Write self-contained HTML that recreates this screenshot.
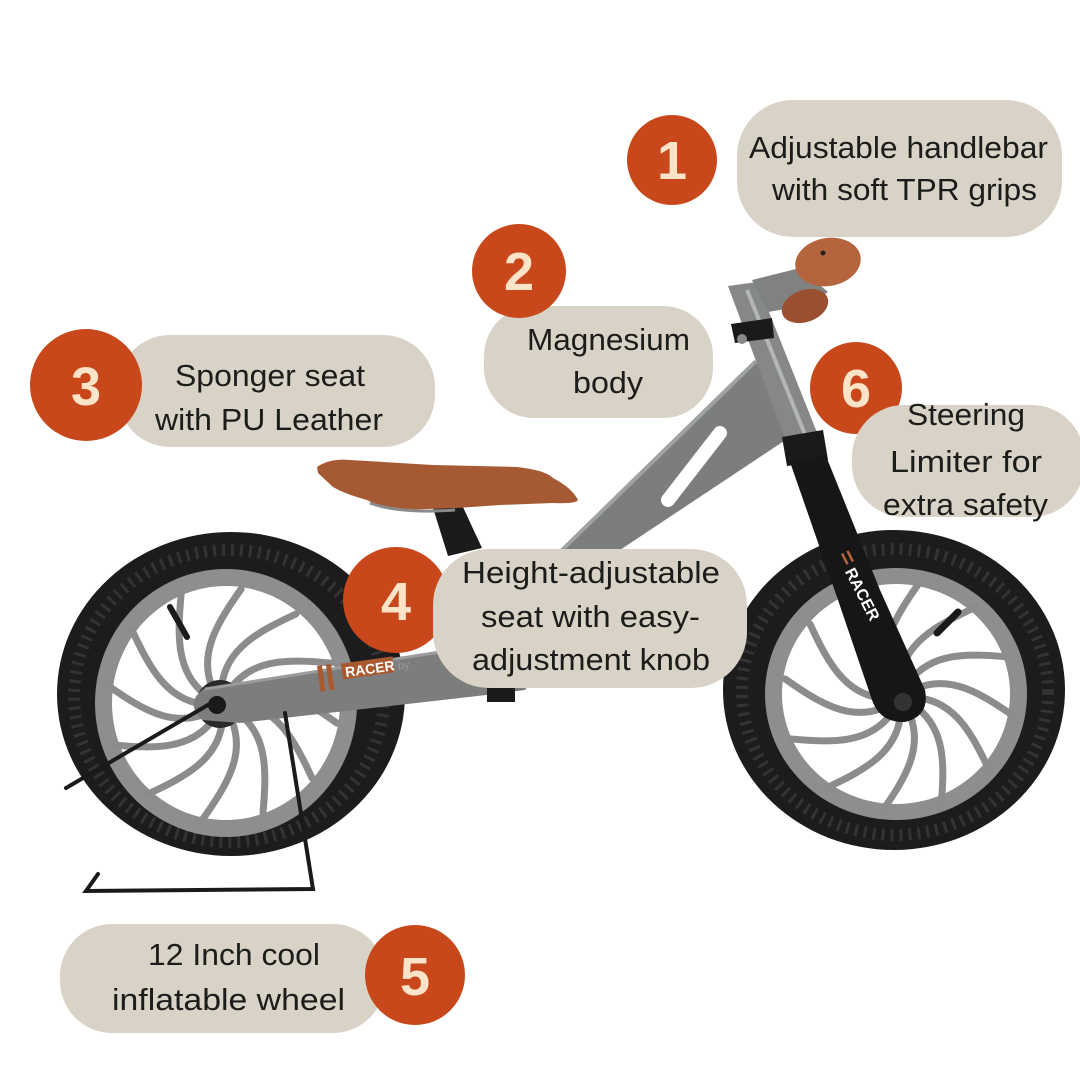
<!DOCTYPE html>
<html><head><meta charset="utf-8"><style>
html,body{margin:0;padding:0;background:#fff;}
svg{display:block;}
.t{font-family:"Liberation Sans",sans-serif;font-size:31px;fill:#1c1c1a;}
.n{font-family:"Liberation Sans",sans-serif;font-size:54px;font-weight:bold;fill:#fde4c8;text-anchor:middle;}
</style></head><body>
<svg width="1080" height="1080" viewBox="0 0 1080 1080" xmlns="http://www.w3.org/2000/svg">
<defs>
<path id="sp" d="M20,0 C55,5 72,35 90,74" fill="none" stroke="#8c8c8c" stroke-width="7" stroke-linecap="round"/>
<g id="spk">
<use href="#sp"/><use href="#sp" transform="rotate(30)"/><use href="#sp" transform="rotate(60)"/><use href="#sp" transform="rotate(90)"/><use href="#sp" transform="rotate(120)"/><use href="#sp" transform="rotate(150)"/><use href="#sp" transform="rotate(180)"/><use href="#sp" transform="rotate(210)"/><use href="#sp" transform="rotate(240)"/><use href="#sp" transform="rotate(270)"/><use href="#sp" transform="rotate(300)"/><use href="#sp" transform="rotate(330)"/>
</g>
</defs>
<rect width="1080" height="1080" fill="#fff"/>

<!-- REAR WHEEL -->
<ellipse cx="231" cy="694" rx="174" ry="162" fill="#1c1c1c"/>
<ellipse cx="229" cy="696" rx="155" ry="146" fill="none" stroke="#333" stroke-width="12" stroke-dasharray="3 6"/>
<ellipse cx="226" cy="703" rx="131" ry="134" fill="#8e8e8e"/>
<ellipse cx="226" cy="703" rx="114" ry="117" fill="#fff"/>
<g transform="translate(222,704)"><use href="#spk"/></g>
<circle cx="220" cy="704" r="24" fill="#2a2a2a"/>
<line x1="170" y1="607" x2="187" y2="637" stroke="#1a1a1a" stroke-width="6" stroke-linecap="round"/>

<!-- FRONT WHEEL -->
<ellipse cx="894" cy="690" rx="171" ry="160" fill="#1c1c1c"/>
<ellipse cx="895" cy="692" rx="153" ry="143" fill="none" stroke="#333" stroke-width="12" stroke-dasharray="3 6"/>
<ellipse cx="896" cy="694" rx="131" ry="126" fill="#8e8e8e"/>
<ellipse cx="896" cy="694" rx="114" ry="110" fill="#fff"/>
<g transform="translate(900,698)"><use href="#spk"/></g>
<line x1="937" y1="633" x2="958" y2="612" stroke="#1a1a1a" stroke-width="7" stroke-linecap="round"/>

<!-- SEAT POST -->
<path d="M433,508 L462,505 L482,548 L448,556 Z" fill="#1b1b1b"/>
<!-- FRAME -->
<path d="M755,360 L560,550 L462,648 L440,651 L205,688 Q184,702 202,720 L240,723 L495,694 L525,690 L620,550 L790,437 L800,442 Z" fill="#7b7e7d"/>
<path d="M755,362 L560,552" stroke="#9fa2a1" stroke-width="4" fill="none"/>
<path d="M440,652 L205,689" stroke="#9a9d9c" stroke-width="3" fill="none"/>
<line x1="720" y1="433" x2="668" y2="500" stroke="#fff" stroke-width="14" stroke-linecap="round"/>
<rect x="487" y="688" width="28" height="14" fill="#1b1b1b"/>
<!-- RACER label rear -->
<g transform="rotate(-8 360 670)">
<rect x="318" y="660" width="5" height="26" fill="#a9592f"/>
<rect x="327" y="660" width="5" height="26" fill="#a9592f"/>
<rect x="342" y="661" width="52" height="16" fill="#a9592f"/>
<text x="345" y="675" font-family="Liberation Sans,sans-serif" font-size="14" font-weight="bold" fill="#fff">RACER</text>
<text x="398" y="675" font-family="Liberation Sans,sans-serif" font-size="11" fill="#999">by</text>
</g>
<circle cx="217" cy="705" r="9" fill="#1a1a1a"/>

<!-- kickstand -->
<g stroke="#1a1a1a" stroke-width="4" fill="none" stroke-linecap="round">
<line x1="213" y1="702" x2="66" y2="788"/>
<polyline points="285,713 313,889 86,891 98,874"/>
</g>

<!-- HEAD TUBE -->
<path d="M728,286 L757,282 L822,445 L790,452 Z" fill="#858887"/>
<line x1="747" y1="290" x2="808" y2="442" stroke="#b3b6b5" stroke-width="4"/>
<!-- stem -->
<path d="M752,280 L800,268 L828,292 L808,305 L768,312 Z" fill="#7f8281"/>
<!-- grips -->
<ellipse cx="805" cy="306" rx="24" ry="16" fill="#9a5030" transform="rotate(-20 805 306)"/>
<ellipse cx="828" cy="262" rx="33" ry="24" fill="#b5653d" transform="rotate(-10 828 262)"/>
<circle cx="823" cy="253" r="2.5" fill="#222"/>
<!-- collar -->
<path d="M731,324 L772,318 L774,338 L735,343 Z" fill="#1a1a1a"/>
<circle cx="742" cy="339" r="5" fill="#888"/>
<!-- headset -->
<path d="M782,437 L823,430 L828,460 L787,466 Z" fill="#1a1a1a"/>
<!-- FORK -->
<path d="M790,462 L826,456 L880,590 L925,690 Q930,716 905,722 Q880,723 872,700 L838,600 Z" fill="#161616"/>
<circle cx="903" cy="702" r="9" fill="#333"/>
<g transform="rotate(63 865 598)">
<text x="832" y="604" font-family="Liberation Sans,sans-serif" font-size="16" font-weight="bold" fill="#fff">RACER</text>
<rect x="815" y="591" width="12" height="2.5" fill="#b5653d"/>
<rect x="815" y="597" width="12" height="2.5" fill="#b5653d"/>
</g>

<!-- SADDLE -->
<path d="M318,473 L317,467 Q330,458 350,460 L433,465 L517,467 Q545,470 553,478 Q572,488 578,500 Q576,504 553,503 L500,505 L457,508 L400,510 Q380,507 367,500 Q345,494 333,487 Z" fill="#a65a34"/>
<path d="M370,503 Q400,514 455,510" stroke="#8a8a8a" stroke-width="3" fill="none"/>

<!-- LABELS -->
<rect x="737" y="100" width="325" height="137" rx="56" fill="#d9d3c7"/>
<circle cx="672" cy="160" r="45" fill="#c8481c"/>
<text class="n" x="672" y="179">1</text>
<text class="t" x="749" y="158" textLength="299" lengthAdjust="spacingAndGlyphs">Adjustable handlebar</text>
<text class="t" x="772" y="200" textLength="265" lengthAdjust="spacingAndGlyphs">with soft TPR grips</text>

<rect x="484" y="306" width="229" height="112" rx="50" fill="#d9d3c7"/>
<circle cx="519" cy="271" r="47" fill="#c8481c"/>
<text class="n" x="519" y="290">2</text>
<text class="t" x="527" y="350" textLength="163" lengthAdjust="spacingAndGlyphs">Magnesium</text>
<text class="t" x="573" y="393" textLength="70" lengthAdjust="spacingAndGlyphs">body</text>

<rect x="118" y="335" width="317" height="112" rx="52" fill="#d9d3c7"/>
<circle cx="86" cy="385" r="56" fill="#c8481c"/>
<text class="n" x="86" y="405">3</text>
<text class="t" x="175" y="386" textLength="190" lengthAdjust="spacingAndGlyphs">Sponger seat</text>
<text class="t" x="155" y="430" textLength="228" lengthAdjust="spacingAndGlyphs">with PU Leather</text>

<circle cx="396" cy="600" r="53" fill="#c8481c"/>
<text class="n" x="396" y="620">4</text>
<rect x="433" y="549" width="314" height="139" rx="56" fill="#d9d3c7"/>
<text class="t" x="462" y="583" textLength="258" lengthAdjust="spacingAndGlyphs">Height-adjustable</text>
<text class="t" x="481" y="627" textLength="219" lengthAdjust="spacingAndGlyphs">seat with easy-</text>
<text class="t" x="472" y="670" textLength="238" lengthAdjust="spacingAndGlyphs">adjustment knob</text>

<rect x="60" y="924" width="325" height="109" rx="52" fill="#d9d3c7"/>
<circle cx="415" cy="975" r="50" fill="#c8481c"/>
<text class="n" x="415" y="995">5</text>
<text class="t" x="148" y="965" textLength="172" lengthAdjust="spacingAndGlyphs">12 Inch cool</text>
<text class="t" x="112" y="1010" textLength="233" lengthAdjust="spacingAndGlyphs">inflatable wheel</text>

<circle cx="856" cy="388" r="46" fill="#c8481c"/>
<text class="n" x="856" y="407">6</text>
<rect x="852" y="405" width="232" height="112" rx="52" fill="#d9d3c7"/>
<text class="t" x="907" y="425" textLength="118" lengthAdjust="spacingAndGlyphs">Steering</text>
<text class="t" x="890" y="472" textLength="152" lengthAdjust="spacingAndGlyphs">Limiter for</text>
<text class="t" x="883" y="515" textLength="165" lengthAdjust="spacingAndGlyphs">extra safety</text>
</svg>
</body></html>
